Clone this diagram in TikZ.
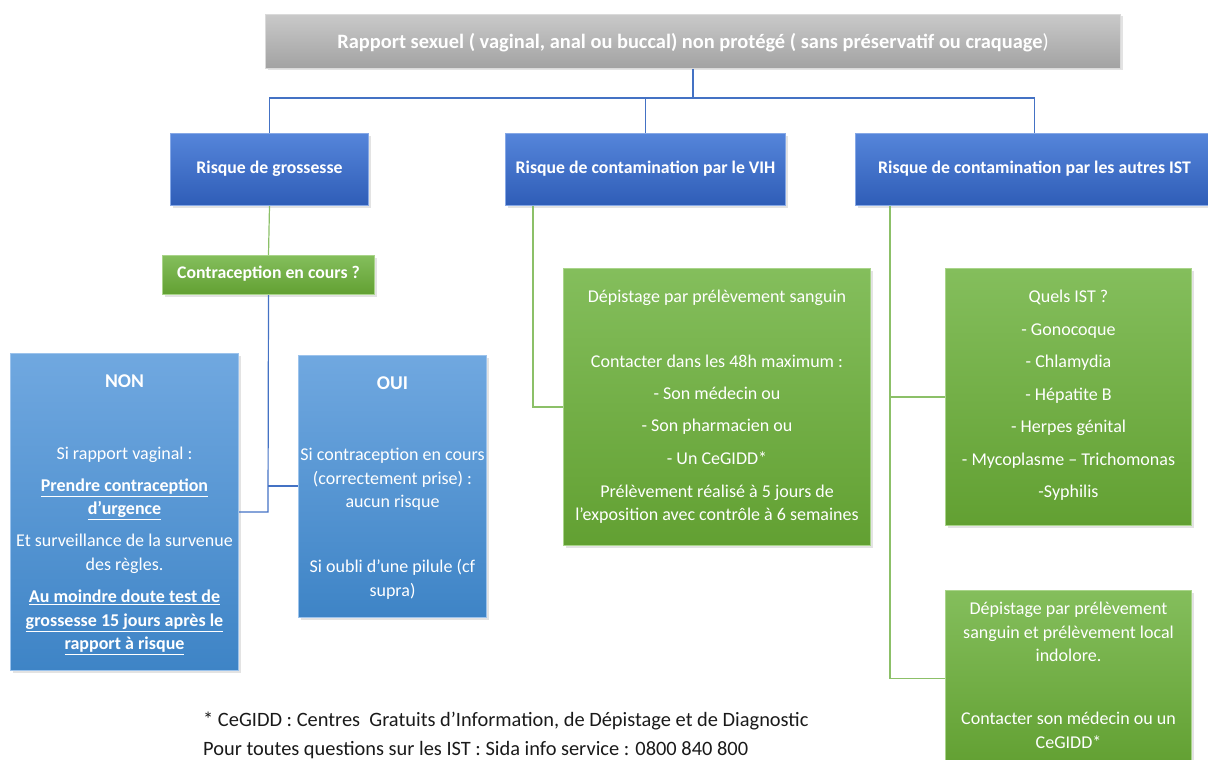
\documentclass[tikz,border=0pt]{standalone}
\usepackage{fontspec}
\setmainfont{Carlito}
\usetikzlibrary{shadows,calc}
\definecolor{dbTop}{HTML}{5585DA}
\definecolor{dbBot}{HTML}{2F5DB7}
\definecolor{dbEdge}{HTML}{86A8E6}
\definecolor{lbTop}{HTML}{70A8E0}
\definecolor{lbBot}{HTML}{3E84C6}
\definecolor{lbEdge}{HTML}{9CC3EC}
\definecolor{grTop}{HTML}{84BE5C}
\definecolor{grBot}{HTML}{62A032}
\definecolor{grEdge}{HTML}{A9D48A}
\definecolor{gyTop}{HTML}{C9C9C9}
\definecolor{gyBot}{HTML}{A2A2A2}
\definecolor{gyEdge}{HTML}{DADADA}
\definecolor{blLine}{HTML}{4472C4}
\definecolor{grLine}{HTML}{8CC068}
\definecolor{footTxt}{HTML}{1A1A1A}
\begin{document}
\begin{tikzpicture}[x=1pt,y=-1pt,
  box/.style={rectangle, inner sep=0, anchor=north west, line width=1pt,
    drop shadow={opacity=0.22, shadow xshift=2pt, shadow yshift=-2pt}},
  darkbox/.style={box, draw=dbEdge, top color=dbTop, bottom color=dbBot},
  lightbox/.style={box, draw=lbEdge, top color=lbTop, bottom color=lbBot},
  greenbox/.style={box, draw=grEdge, top color=grTop, bottom color=grBot},
  graybox/.style={box, draw=gyEdge, top color=gyTop, bottom color=gyBot},
  title/.style={text=white, font=\fontsize{17.75}{21}\selectfont\bfseries, inner sep=0},
  body/.style={text=white, font=\fontsize{18}{23.5}\selectfont, align=center, inner sep=0, anchor=north},
  bl/.style={draw=blLine, line width=1.2pt},
  gl/.style={draw=grLine, line width=1.2pt}]
\useasboundingbox (0,0) rectangle (1208,760);

% boxes
\node[graybox, minimum width=855, minimum height=54] (top) at (265,14) {};
\node[title, font=\fontsize{20.4}{24}\selectfont\bfseries] (topT) at ($(top.center)+(0,1)$) {Rapport sexuel ( vaginal, anal ou buccal) non protégé ( sans préservatif ou craquage\mdseries)};

\node[darkbox, minimum width=198, minimum height=72] (gro) at (170,133) {};
\node[title] (groT) at ($(gro.center)+(0,-1)$) {Risque de grossesse};
\node[darkbox, minimum width=280, minimum height=72] (vih) at (505,133) {};
\node[title] (vihT) at ($(vih.center)+(0,-1)$) {Risque de contamination par le VIH};
\node[darkbox, minimum width=358, minimum height=72] (ist) at (855,133) {};
\node[title] (istT) at ($(ist.center)+(0,-1)$) {Risque de contamination par les autres IST};

\node[greenbox, minimum width=212, minimum height=39] (contra) at (162,255) {};
\node[title] (contraT) at ($(contra.center)+(0,-1.5)$) {Contraception en cours ?};

\node[lightbox, minimum width=228, minimum height=317] (non) at (10,353) {};
\node[body] (nonT) at ($(non.north)+(0,21.5)$) {%
{\fontsize{19.5}{23.5}\selectfont\bfseries NON}\\[48.5pt]
Si rapport vaginal :\\[8.5pt]
\textbf{\underline{Prendre contraception}}\\
\textbf{\underline{d’urgence}}\\[8.5pt]
Et surveillance de la survenue\\
des règles.\\[9pt]
\textbf{\underline{Au moindre doute test de}}\\
\textbf{\underline{grossesse 15 jours après le}}\\
\textbf{\underline{rapport à risque}}};

\node[lightbox, minimum width=188, minimum height=262] (oui) at (298,355) {};
\node[body] (ouiT) at ($(oui.north)+(0,22)$) {%
{\fontsize{19.5}{23.5}\selectfont\bfseries OUI}\\[47.5pt]
Si contraception en cours\\
(correctement prise) :\\
aucun risque\\[41.5pt]
Si oubli d’une pilule (cf\\
supra)};

\node[greenbox, minimum width=307, minimum height=277] (g1) at (563,268) {};
\node[body] (g1T) at ($(g1.north)+(0,21.5)$) {%
Dépistage par prélèvement sanguin\\[41.5pt]
Contacter dans les 48h maximum :\\[8.5pt]
- Son médecin ou\\[8.5pt]
- Son pharmacien ou\\[9.5pt]
- Un CeGIDD*\\[9.5pt]
Prélèvement réalisé à 5 jours de\\
l’exposition avec contrôle à 6 semaines};

\node[greenbox, minimum width=246, minimum height=257] (g2) at (945,268) {};
\node[body] (g2T) at ($(g2.north)+(0,22)$) {%
Quels IST ?\\[9pt]
- Gonocoque\\[9pt]
- Chlamydia\\[9pt]
- Hépatite B\\[9pt]
- Herpes génital\\[9pt]
- Mycoplasme – Trichomonas\\[9pt]
-Syphilis};

\node[greenbox, minimum width=246, minimum height=176] (g3) at (945,590) {};
\node[body] (g3T) at ($(g3.north)+(0,12)$) {%
Dépistage par prélèvement\\
sanguin et prélèvement local\\
indolore.\\[39.5pt]
Contacter son médecin ou un\\
CeGIDD*};

\node[text=footTxt, font=\fontsize{20.4}{29}\selectfont, align=left, inner sep=0, anchor=north west] (foot) at (203,712) {%
* CeGIDD : Centres~ Gratuits d’Information, de Dépistage et de Diagnostic\\
Pour toutes questions sur les IST : Sida info service : 0800 840 800};

% connectors
\coordinate (hy) at (0,98);
\draw[bl] (top.south) -- (top.south |- hy);
\draw[bl] (gro.north) -- (gro.north |- hy) -- (ist.north |- hy) -- (ist.north);
\draw[bl] (vih.north |- hy) -- (vih.north);
\draw[gl] (gro.south) -- (contra.north);
\coordinate (j1) at (268,486);
\coordinate (j2) at (268,512);
\draw[bl] (contra.south) -- (j2) -- (non.east |- j2);
\draw[bl] (j1) -- (oui.west |- j1);
\coordinate (v1) at ($(vih.south west)+(28,0)$);
\draw[gl] (v1) |- (g1.west);
\coordinate (i1) at ($(ist.south west)+(35,0)$);
\draw[gl] (i1) |- (g3.west);
\draw[gl] (i1 |- g2.west) -- (g2.west);
\end{tikzpicture}
\end{document}
